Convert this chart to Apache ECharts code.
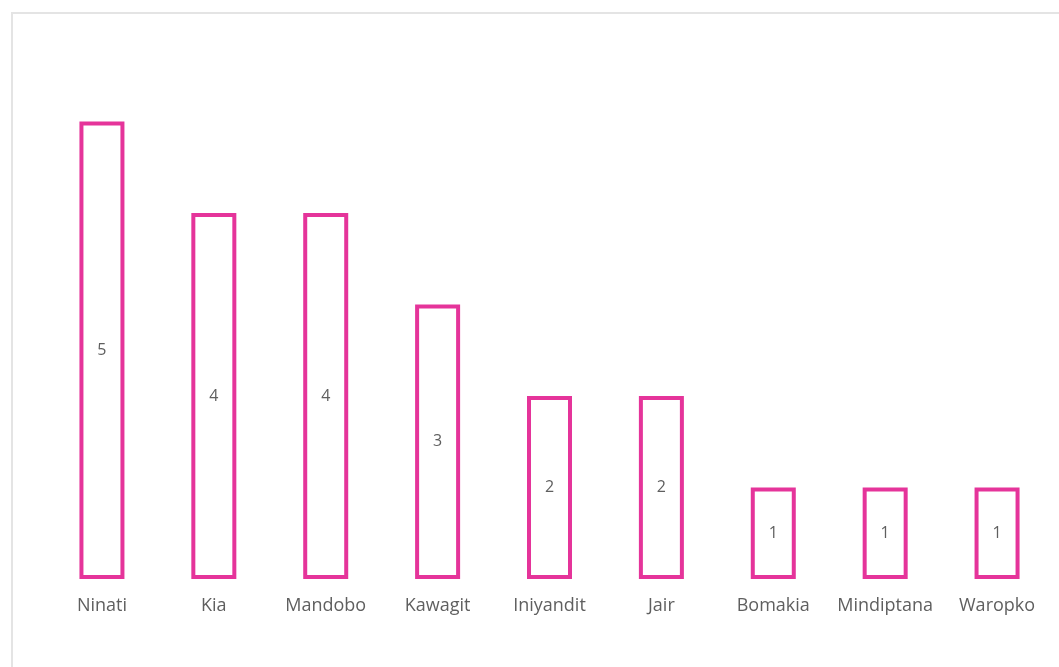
<!DOCTYPE html>
<html>
<head>
<meta charset="utf-8">
<title>Bar chart</title>
<script src="https://cdn.jsdelivr.net/npm/echarts@6/dist/echarts.min.js"></script>
<style>
  html, body { margin: 0; padding: 0; background: #fff; }
  #chart { width: 1059px; height: 667px; }
</style>
</head>
<body>
<div id="chart"></div>
<script>
// data
var categories = ['Ninati', 'Kia', 'Mandobo', 'Kawagit', 'Iniyandit', 'Jair', 'Bomakia', 'Mindiptana', 'Waropko'];
var counts = [5, 4, 4, 3, 2, 2, 1, 1, 1];

var myChart = echarts.init(document.getElementById('chart'));
var option = {
  backgroundColor: '#fff',
  textStyle: { fontFamily: '"Open Sans", sans-serif' },
  graphic: [
    {
      type: 'rect',
      shape: { x: 12, y: 13, width: 1100, height: 700 },
      style: { fill: 'none', stroke: '#e4e4e4', lineWidth: 2 },
      silent: true
    }
  ],
  grid: {
    left: 46,
    right: 6,
    top: 30,
    bottom: 88
  },
  xAxis: {
    type: 'category',
    data: categories,
    axisLine: { show: false },
    axisTick: { show: false },
    axisLabel: {
      margin: 18,
      fontSize: 18,
      color: '#5f5f5f',
      interval: 0
    }
  },
  yAxis: {
    type: 'value',
    min: 0,
    max: 6,
    show: false,
    splitLine: { show: false }
  },
  series: [
    {
      type: 'bar',
      data: counts,
      barWidth: 45,
      itemStyle: {
        color: '#fff',
        borderColor: '#e5349a',
        borderWidth: 4
      },
      label: {
        show: true,
        position: 'inside',
        fontSize: 16,
        color: '#5f5f5f'
      }
    }
  ]
};
myChart.setOption(option);
window.addEventListener('resize', function () {
  myChart.resize();
});
</script>
</body>
</html>
